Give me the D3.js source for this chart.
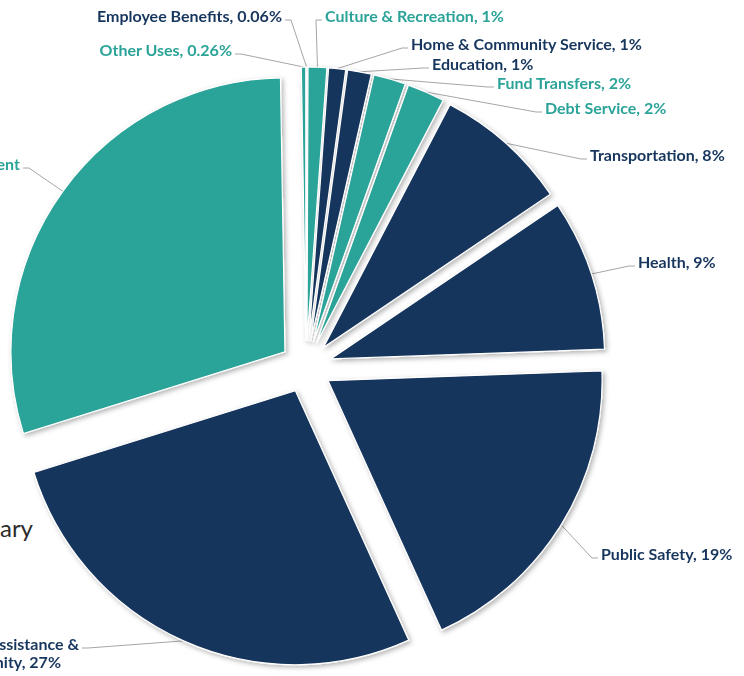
<!DOCTYPE html>
<html>
<head>
<meta charset="utf-8">
<script src="https://cdn.jsdelivr.net/npm/d3@7"></script>
<style>
  html, body { margin: 0; padding: 0; background: #fff; }
  svg { display: block; }
</style>
</head>
<body>
<div id="chart"></div>
<script>
// spending categories, clockwise from 12 o'clock
const categories = ["Employee Benefits", "Culture & Recreation", "Home & Community Service", "Education", "Fund Transfers", "Debt Service", "Transportation", "Health", "Public Safety", "Economic Assistance & Opportunity", "General Government", "Other Uses"];
const shares = [0.06, 1.1, 1.0, 1.4, 1.9, 2.2, 7.9, 8.9, 18.8, 27.0, 29.6, 0.26];
// data labels as printed (\n = line break)
const labels = ["Employee Benefits, 0.06%", "Culture & Recreation, 1%", "Home & Community Service, 1%", "Education, 1%", "Fund Transfers, 2%", "Debt Service, 2%", "Transportation, 8%", "Health, 9%", "Public Safety, 19%", "Economic Assistance &\nOpportunity, 27%", "General Government\n30%", "Other Uses, 0.26%"];
const title = "Budget Summary";

const data = categories.map((c, i) => ({ name: c, value: shares[i], label: labels[i] }));

const width = 744, height = 676;
const cx = 306, cy = 367, radius = 274, explode = 26;
const navy = "#17365d", teal = "#2ba399";

const sliceColors = {
    "Employee Benefits": navy,
    "Culture & Recreation": teal,
    "Home & Community Service": navy,
    "Education": navy,
    "Fund Transfers": teal,
    "Debt Service": teal,
    "Transportation": navy,
    "Health": navy,
    "Public Safety": navy,
    "Economic Assistance & Opportunity": navy,
    "General Government": teal,
    "Other Uses": teal
};

// label placement (x = text edge on the leader side, y = baseline of first line)
const labelPos = {
    "Employee Benefits": { x: 282, y: 22, side: "end" },
    "Culture & Recreation": { x: 325, y: 22, side: "start" },
    "Home & Community Service": { x: 411, y: 50, side: "start" },
    "Education": { x: 432, y: 70, side: "start" },
    "Fund Transfers": { x: 497, y: 89, side: "start" },
    "Debt Service": { x: 545, y: 114, side: "start" },
    "Transportation": { x: 590, y: 161, side: "start" },
    "Health": { x: 638, y: 268, side: "start" },
    "Public Safety": { x: 601, y: 560, side: "start" },
    "Economic Assistance & Opportunity": { x: 79, y: 650, side: "end" },
    "General Government": { x: 20, y: 170, side: "end" },
    "Other Uses": { x: 232, y: 56, side: "end" }
};

const pie = d3.pie().sort(null).value(d => d.value);
const arc = d3.arc().innerRadius(0).outerRadius(radius);
const arcs = pie(data);

const mid = d => (d.startAngle + d.endAngle) / 2;

const svg = d3.select("#chart")
    .append("svg")
    .attr("width", width)
    .attr("height", height)
    .attr("viewBox", [0, 0, width, height]);

const filter = svg.append("defs").append("filter")
    .attr("id", "shadow")
    .attr("x", "-10%").attr("y", "-10%")
    .attr("width", "120%").attr("height", "120%");
filter.append("feDropShadow")
    .attr("dx", 2).attr("dy", 2)
    .attr("stdDeviation", 2.5)
    .attr("flood-color", "#000")
    .attr("flood-opacity", 0.3);

// title (mostly off the left edge)
svg.append("text")
    .attr("x", 33)
    .attr("y", 537)
    .attr("text-anchor", "end")
    .attr("font-family", "Lato, 'Open Sans', sans-serif")
    .attr("font-weight", 400)
    .attr("font-size", 24)
    .attr("fill", "#2b2b2b")
    .text(title);

// leader lines
svg.append("g")
    .attr("fill", "none")
    .attr("stroke", "#a6a6a6")
    .attr("stroke-width", 1)
    .selectAll("polyline")
    .data(arcs)
    .join("polyline")
    .attr("points", d => {
        const a = mid(d);
        const p = labelPos[d.data.name];
        const dir = p.side === "start" ? -1 : 1;
        const sx = cx + Math.sin(a) * (radius + explode);
        const sy = cy - Math.cos(a) * (radius + explode);
        const ey = p.y - 2;
        return [[sx, sy], [p.x + dir * 9, ey], [p.x + dir * 3, ey]].join(" ");
    });

// slices, each pushed out along its bisector
svg.append("g")
    .attr("transform", `translate(${cx},${cy})`)
    .attr("filter", "url(#shadow)")
    .selectAll("path")
    .data(arcs)
    .join("path")
    .attr("transform", d => `translate(${Math.sin(mid(d)) * explode},${-Math.cos(mid(d)) * explode})`)
    .attr("d", arc)
    .attr("fill", d => sliceColors[d.data.name])
    .attr("stroke", "#fff")
    .attr("stroke-width", 1.2);

// data labels
const labelText = svg.append("g")
    .attr("font-family", "Lato, 'Open Sans', sans-serif")
    .attr("font-weight", 700)
    .attr("font-size", 16)
    .selectAll("text")
    .data(arcs)
    .join("text")
    .attr("fill", d => sliceColors[d.data.name])
    .attr("text-anchor", d => labelPos[d.data.name].side);

labelText.each(function (d) {
    const p = labelPos[d.data.name];
    const lines = d.data.label.split("\n");
    const t = d3.select(this);
    lines.forEach((line, i) => {
        t.append("tspan").attr("x", p.x).attr("y", p.y + i * 18).text(line);
    });
    if (lines.length > 1) {
        // wrapped labels are centred; keep the first line's edge at p.x
        const w = t.select("tspan").node().getComputedTextLength();
        const centre = p.side === "end" ? p.x - w / 2 : p.x + w / 2;
        t.attr("text-anchor", "middle").selectAll("tspan").attr("x", centre);
    }
});
</script>
</body>
</html>
